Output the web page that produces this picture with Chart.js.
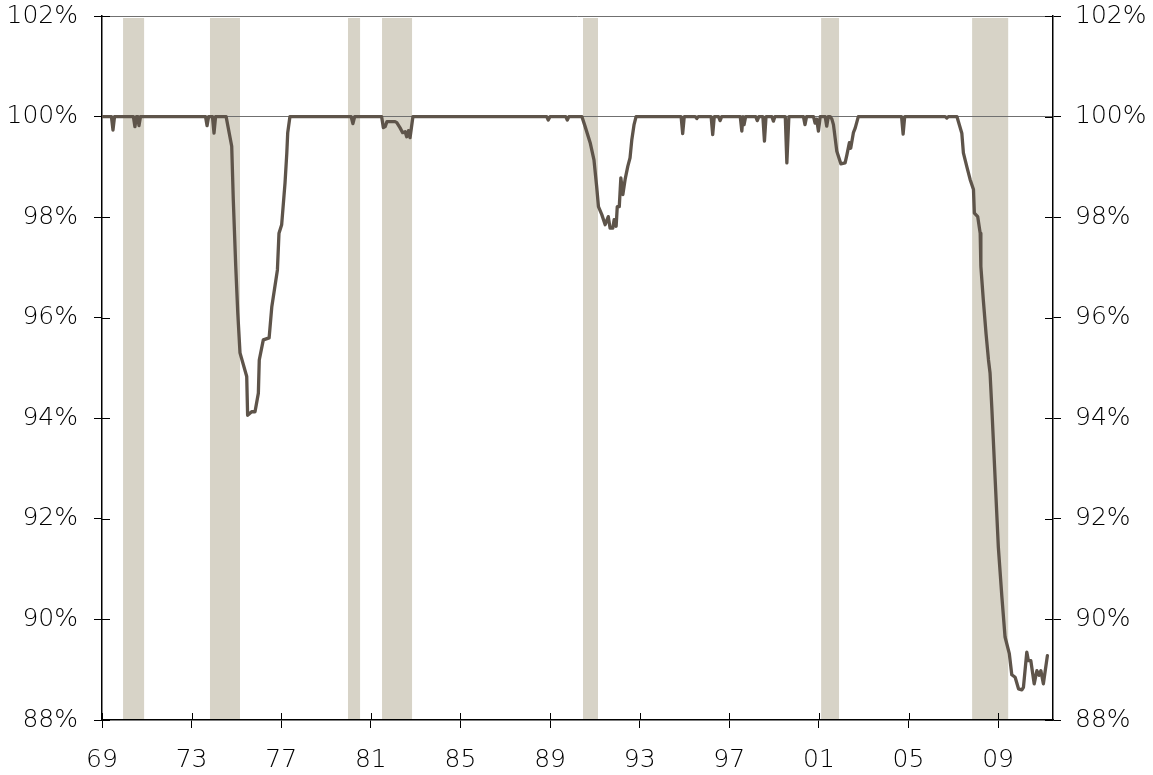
<!DOCTYPE html>
<html>
<head>
<meta charset="utf-8">
<script src="https://cdn.jsdelivr.net/npm/chart.js@4.4.1/dist/chart.umd.min.js"></script>
<style>
  html, body { margin: 0; padding: 0; background: #fff; }
  #wrap { width: 1153px; height: 775px; }
</style>
</head>
<body>
<div id="wrap"><canvas id="chart" width="1153" height="775"></canvas></div>
<script>
// share of value, monthly-ish points (decimal years)
const years = [
    1969.0, 1969.42, 1969.49, 1969.56, 1970.4, 1970.47, 1970.54, 1970.6, 1970.65, 1970.72,
    1973.62, 1973.69, 1973.76, 1973.93, 1974.0, 1974.07, 1974.54,
    1974.79, 1974.86, 1974.97, 1975.06, 1975.16, 1975.46, 1975.5, 1975.68, 1975.83,
    1975.98, 1976.02, 1976.2, 1976.46, 1976.58, 1976.83, 1976.9, 1977.02, 1977.17,
    1977.25, 1977.29, 1977.39,
    1980.12, 1980.2, 1980.28,
    1981.48, 1981.56, 1981.64, 1981.72, 1982.08, 1982.16, 1982.3, 1982.42, 1982.53,
    1982.6, 1982.68, 1982.75, 1982.88,
    1988.85, 1988.92, 1989.0, 1989.7, 1989.77, 1989.84,
    1990.42, 1990.56, 1990.79, 1990.96, 1991.08, 1991.16, 1991.31, 1991.46, 1991.6,
    1991.68, 1991.8, 1991.86, 1991.95, 1992.0, 1992.09, 1992.16, 1992.25, 1992.35,
    1992.47, 1992.57, 1992.65, 1992.75, 1992.84,
    1994.85, 1994.92, 1994.99, 1995.48, 1995.55, 1995.62, 1996.19, 1996.26, 1996.33,
    1996.52, 1996.59, 1996.66, 1997.49, 1997.56, 1997.61, 1997.66, 1997.73,
    1998.18, 1998.25, 1998.32, 1998.5, 1998.57, 1998.64, 1998.9, 1998.97, 1999.04,
    1999.5, 1999.57, 1999.66,
    2000.31, 2000.38, 2000.45, 2000.76, 2000.83, 2000.9, 2000.98, 2001.06,
    2001.28, 2001.35, 2001.42, 2001.5, 2001.58, 2001.65, 2001.8, 2001.98, 2002.17,
    2002.25, 2002.36, 2002.42, 2002.54, 2002.62, 2002.76,
    2004.69, 2004.76, 2004.83, 2006.64, 2006.71, 2006.78,
    2007.16, 2007.38, 2007.45, 2007.6, 2007.75, 2007.9, 2007.94, 2008.09, 2008.2,
    2008.23, 2008.34, 2008.46, 2008.57, 2008.64, 2008.72, 2008.87, 2009.01, 2009.17,
    2009.31, 2009.5, 2009.61, 2009.76, 2009.91, 2010.06, 2010.13, 2010.28, 2010.35,
    2010.46, 2010.61, 2010.73, 2010.83, 2010.91, 2011.02, 2011.2
];
const values = [
    100, 100, 99.73, 100, 100, 99.8, 100, 100, 99.82, 100,
    100, 99.82, 100, 100, 99.67, 100, 100,
    99.41, 98.35, 97.02, 96.1, 95.3, 94.83, 94.06, 94.13, 94.13,
    94.5, 95.16, 95.56, 95.6, 96.22, 96.95, 97.68, 97.85, 98.68,
    99.28, 99.68, 100,
    100, 99.86, 100,
    100, 99.78, 99.8, 99.9, 99.9, 99.88, 99.78, 99.68, 99.7,
    99.6, 99.72, 99.58, 100,
    100, 99.93, 100, 100, 99.93, 100,
    100, 99.81, 99.48, 99.14, 98.61, 98.21, 98.05, 97.85, 98.01,
    97.78, 97.78, 97.95, 97.82, 98.21, 98.21, 98.78, 98.45, 98.75,
    99.01, 99.18, 99.54, 99.84, 100,
    100, 99.66, 100, 100, 99.96, 100, 100, 99.64, 100,
    100, 99.92, 100, 100, 99.71, 100, 99.84, 100,
    100, 99.92, 100, 100, 99.51, 100, 100, 99.91, 100,
    100, 99.08, 100,
    100, 99.84, 100, 100, 99.87, 99.95, 99.71, 100,
    100, 99.81, 100, 100, 99.95, 99.84, 99.31, 99.06, 99.08,
    99.24, 99.48, 99.37, 99.68, 99.77, 100,
    100, 99.65, 100, 100, 99.97, 100,
    100, 99.67, 99.28, 99.01, 98.75, 98.55, 98.08, 98.01, 97.68,
    97.02, 96.35, 95.69, 95.16, 94.9, 94.2, 92.77, 91.44, 90.44,
    89.65, 89.32, 88.9, 88.85, 88.62, 88.6, 88.65, 89.35, 89.18,
    89.18, 88.72, 88.98, 88.89, 88.98, 88.72, 89.28
];

// recession shading
const recessionStart = [1969.94, 1973.82, 1979.98, 1981.5, 1990.47, 2001.1, 2007.84];
const recessionEnd   = [1970.88, 1975.16, 1980.52, 1982.84, 1991.14, 2001.9, 2009.45];

const xTickYears = [1969, 1973, 1977, 1981, 1985, 1989, 1993, 1997, 2001, 2005, 2009];
const yTicks = [88, 90, 92, 94, 96, 98, 100, 102];

const FONT = { family: '"DejaVu Sans", sans-serif', size: 25, weight: '300' };

const recessionBands = {
    id: 'recessionBands',
    beforeDraw(chart) {
        const { ctx, chartArea, scales: { x } } = chart;
        ctx.save();
        ctx.fillStyle = '#d7d3c7';
        recessionStart.forEach((s, i) => {
            const x0 = x.getPixelForValue(s);
            const x1 = x.getPixelForValue(recessionEnd[i]);
            ctx.fillRect(x0, chartArea.top + 2, x1 - x0, chartArea.bottom - chartArea.top - 2);
        });
        ctx.restore();
    }
};

// tick marks cross the axes, so draw the inner halves here
const innerTicks = {
    id: 'innerTicks',
    beforeDatasetsDraw(chart) {
        const { ctx, chartArea, scales } = chart;
        ctx.save();
        ctx.strokeStyle = '#000';
        ctx.lineWidth = 1;
        ctx.beginPath();
        scales.y.ticks.forEach(t => {
            const py = Math.round(scales.y.getPixelForValue(t.value)) + 0.5;
            ctx.moveTo(chartArea.left, py);
            ctx.lineTo(chartArea.left + 8, py);
            ctx.moveTo(chartArea.right - 8, py);
            ctx.lineTo(chartArea.right, py);
        });
        scales.x.ticks.forEach(t => {
            const px = Math.round(scales.x.getPixelForValue(t.value)) + 0.5;
            ctx.moveTo(px, chartArea.bottom);
            ctx.lineTo(px, chartArea.bottom - 7);
        });
        ctx.stroke();
        ctx.restore();
    }
};

const yAxis = (position, width, pad) => ({
    type: 'linear',
    position: position,
    min: 88,
    max: 102,
    afterBuildTicks: axis => { axis.ticks = yTicks.map(v => ({ value: v })); },
    afterFit: axis => {
        axis.width = width;
        axis.paddingTop = 0;
        axis.paddingBottom = 0;
    },
    border: { display: true, color: '#000', width: 1.5 },
    grid: {
        drawOnChartArea: position === 'left',
        drawTicks: true,
        tickLength: 8,
        tickColor: '#000',
        color: c => (c.tick && (c.tick.value === 100 || c.tick.value === 102)) ? '#707070' : 'rgba(0,0,0,0)'
    },
    ticks: {
        padding: pad,
        color: '#000',
        font: FONT,
        callback: v => v + '%'
    }
});

const ctx = document.getElementById('chart').getContext('2d');
new Chart(ctx, {
    type: 'line',
    data: {
        datasets: [{
            data: years.map((x, i) => ({ x: x, y: values[i] })),
            borderColor: '#5e544a',
            borderWidth: 3.3,
            borderJoinStyle: 'round',
            borderCapStyle: 'round',
            pointRadius: 0,
            tension: 0,
            fill: false,
            yAxisID: 'y'
        }]
    },
    options: {
        responsive: false,
        animation: false,
        layout: { autoPadding: false, padding: { top: 16, left: 0, right: 0, bottom: 0 } },
        plugins: {
            legend: { display: false },
            tooltip: { enabled: false }
        },
        scales: {
            x: {
                type: 'linear',
                min: 1969,
                max: 2011.45,
                afterBuildTicks: axis => { axis.ticks = xTickYears.map(v => ({ value: v })); },
                afterFit: axis => {
                    axis.height = 55;
                    axis.paddingLeft = 0;
                    axis.paddingRight = 0;
                },
                border: { display: true, color: '#000', width: 1.5 },
                grid: { drawOnChartArea: false, tickLength: 8, color: '#000' },
                ticks: {
                    padding: 17,
                    color: '#000',
                    font: FONT,
                    maxRotation: 0,
                    callback: v => String(v % 100).padStart(2, '0')
                }
            },
            y: yAxis('left', 102, 16),
            y2: yAxis('right', 100, 14)
        }
    },
    plugins: [recessionBands, innerTicks]
});
</script>
</body>
</html>
